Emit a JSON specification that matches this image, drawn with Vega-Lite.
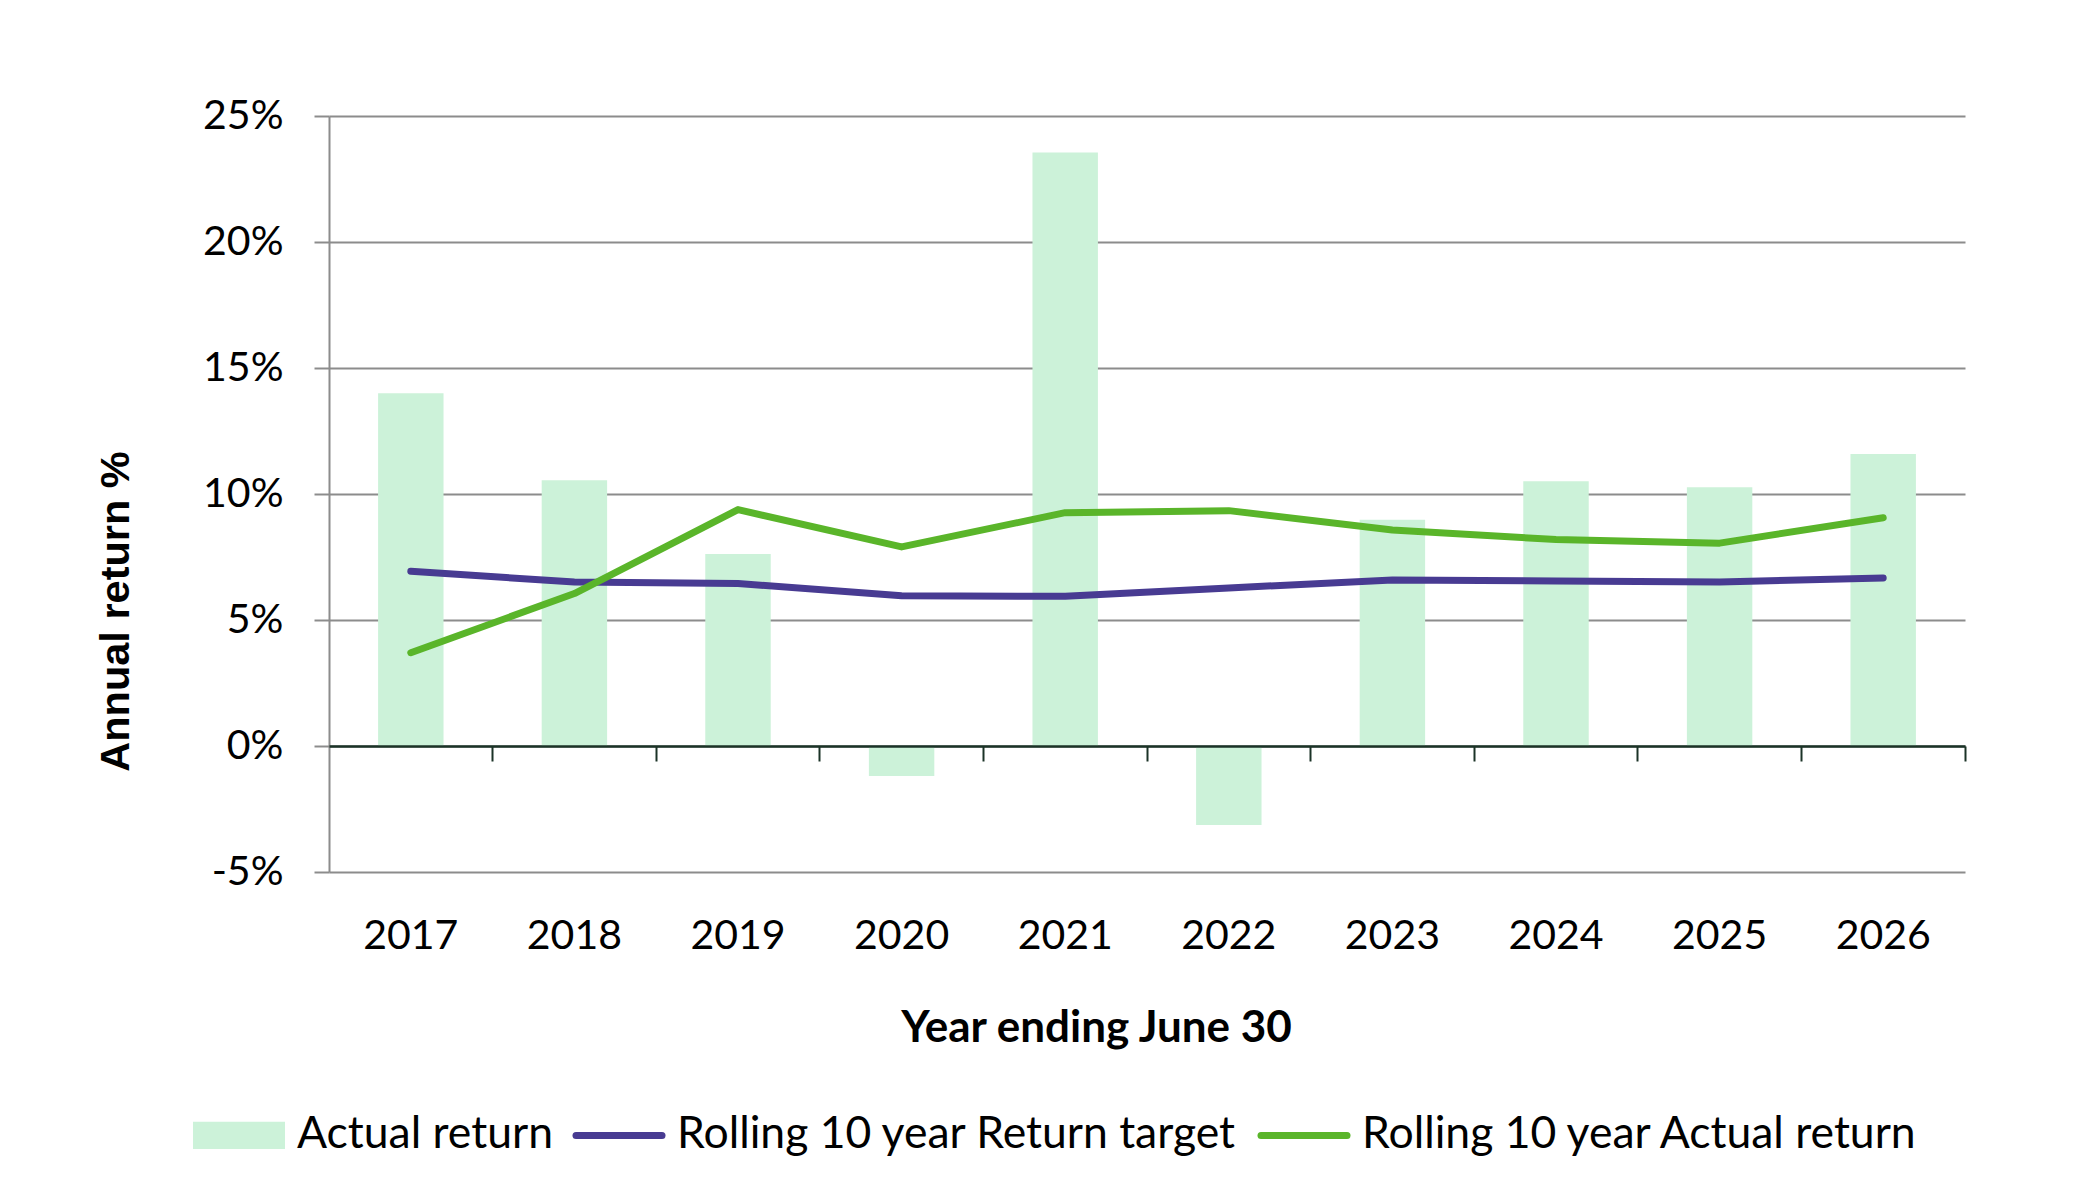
{
  "$schema": "https://vega.github.io/schema/vega-lite/v6.json",
  "width": 1636,
  "height": 756,
  "autosize": {"type": "none"},
  "padding": {"left": 329, "top": 116, "right": 127, "bottom": 332},
  "background": "white",
  "data": {
    "values": [
      {"year": "2017", "actual": 14.0, "target": 6.93, "rolling": 3.70},
      {"year": "2018", "actual": 10.55, "target": 6.51, "rolling": 6.05},
      {"year": "2019", "actual": 7.62, "target": 6.45, "rolling": 9.38},
      {"year": "2020", "actual": -1.19, "target": 5.96, "rolling": 7.90},
      {"year": "2021", "actual": 23.55, "target": 5.94, "rolling": 9.26},
      {"year": "2022", "actual": -3.13, "target": 6.27, "rolling": 9.34},
      {"year": "2023", "actual": 8.98, "target": 6.59, "rolling": 8.57},
      {"year": "2024", "actual": 10.51, "target": 6.55, "rolling": 8.19},
      {"year": "2025", "actual": 10.27, "target": 6.51, "rolling": 8.05},
      {"year": "2026", "actual": 11.59, "target": 6.67, "rolling": 9.06}
    ]
  },
  "transform": [
    {"fold": ["actual", "target", "rolling"], "as": ["key", "value"]},
    {
      "calculate": "datum.key === 'actual' ? 'Actual return' : datum.key === 'target' ? 'Rolling 10 year Return target' : 'Rolling 10 year Actual return'",
      "as": "series"
    }
  ],
  "encoding": {
    "y": {
      "field": "value",
      "type": "quantitative",
      "scale": {"domain": [-5, 25], "nice": false, "zero": false},
      "axis": {
        "values": [-5, 0, 5, 10, 15, 20, 25],
        "labelExpr": "datum.value + '%'",
        "title": "Annual return %",
        "titleFont": "Liberation Sans",
        "titleFontSize": 41.5,
        "titleFontWeight": "bold",
        "titleColor": "black",
        "titleAngle": -90,
        "titleX": -213,
        "titleY": 495,
        "titleAlign": "center",
        "titleBaseline": "middle",
        "labelFont": "Lato",
        "labelFontSize": 41,
        "labelColor": "black",
        "labelPadding": 31,
        "tickSize": 15,
        "tickColor": "#8c8c8c",
        "tickWidth": 2,
        "domainColor": "#8c8c8c",
        "domainWidth": 2,
        "gridColor": "#8c8c8c",
        "gridWidth": 2
      }
    },
    "color": {
      "field": "series",
      "type": "nominal",
      "scale": {
        "domain": ["Actual return", "Rolling 10 year Return target", "Rolling 10 year Actual return"],
        "range": ["#ccf2d9", "#483b92", "#5ab52a"]
      },
      "legend": {
        "orient": "none",
        "legendX": -136,
        "legendY": 997,
        "direction": "horizontal",
        "title": null,
        "padding": 0,
        "labelFont": "Lato",
        "labelFontSize": 44.5,
        "labelColor": "black",
        "labelOffset": 10,
        "columnPadding": 9,
        "symbolSize": 7396,
        "labelLimit": 1000,
        "encode": {
          "symbols": {
            "update": {
              "x": {"value": 46},
              "shape": {"signal": "datum.value === 'Actual return' ? 'M-1.07,-0.314H1.07V0.314H-1.07Z' : 'stroke'"},
              "fill": {"signal": "datum.value === 'Actual return' ? '#ccf2d9' : 'transparent'"},
              "stroke": {"signal": "datum.value === 'Actual return' ? 'transparent' : datum.value === 'Rolling 10 year Return target' ? '#483b92' : '#5ab52a'"},
              "strokeWidth": {"signal": "datum.value === 'Actual return' ? 0 : 7"},
              "strokeCap": {"value": "round"},
              "size": {"value": 7396},
              "opacity": {"value": 1},
              "fillOpacity": {"value": 1},
              "strokeOpacity": {"value": 1}
            }
          },
          "labels": {
            "update": {
              "x": {"value": 104}
            }
          }
        }
      }
    }
  },
  "layer": [
    {
      "transform": [{"filter": "datum.key === 'actual'"}],
      "mark": {"type": "bar", "opacity": 1},
      "encoding": {
        "x": {
          "field": "year",
          "type": "ordinal",
          "scale": {"paddingInner": 0.6, "paddingOuter": 0.3},
          "axis": {
            "orient": "bottom",
            "labelAngle": 0,
            "domain": false,
            "ticks": false,
            "tickSize": 0,
            "grid": false,
            "labelFont": "Lato",
            "labelFontSize": 41,
            "labelColor": "black",
            "labelPadding": 44,
            "title": "Year ending June 30",
            "titleFont": "Lato",
            "titleFontSize": 44,
            "titleFontWeight": "bold",
            "titleColor": "black",
            "titlePadding": 50,
            "titleX": 767,
            "titleAlign": "center"
          }
        }
      }
    },
    {
      "transform": [{"filter": "datum.key !== 'actual'"}],
      "mark": {"type": "line", "strokeWidth": 7, "strokeCap": "round", "strokeJoin": "round"},
      "encoding": {
        "x": {
          "field": "year",
          "type": "ordinal",
          "axis": {
            "orient": "bottom",
            "offset": -126,
            "labels": false,
            "title": null,
            "grid": false,
            "domain": true,
            "domainColor": "#1b3327",
            "domainWidth": 2.5,
            "ticks": true,
            "bandPosition": 1.75,
            "tickColor": "#1b3327",
            "tickWidth": 2,
            "tickSize": 15,
            "zindex": 1
          }
        }
      }
    }
  ],
  "resolve": {"axis": {"x": "independent"}},
  "config": {
    "view": {"stroke": null}
  }
}
